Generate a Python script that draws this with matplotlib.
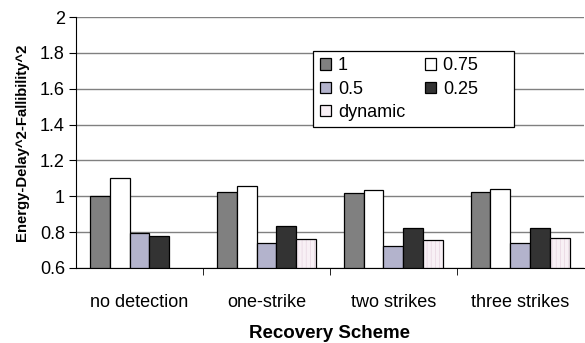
import numpy as np
import matplotlib
matplotlib.use('Agg')
import matplotlib.pyplot as plt

plt.rcParams['font.family'] = ['Liberation Sans', 'DejaVu Sans']
plt.rcParams['hatch.linewidth'] = 0.6

# data
schemes = ['no detection', 'one-strike', 'two strikes', 'three strikes']
series = ['1', '0.75', '0.5', '0.25', 'dynamic']
v_1 = [1.00, 1.025, 1.02, 1.025]
v_075 = [1.10, 1.056, 1.036, 1.04]
v_05 = [0.795, 0.74, 0.72, 0.74]
v_025 = [0.78, 0.835, 0.825, 0.825]
v_dyn = [np.nan, 0.76, 0.755, 0.765]
values = [v_1, v_075, v_05, v_025, v_dyn]

colors = ['#808080', '#ffffff', '#b3b3cc', '#333333', '#f8f0f5']

fig = plt.figure(figsize=(5.85, 3.43), dpi=100)
ax = fig.add_axes([0.130, 0.219, 0.868, 0.731])

x = np.arange(len(schemes))
w = 0.157
handles = []
for i, (name, vals) in enumerate(zip(series, values)):
    h = np.array(vals) - 0.6
    if name == 'dynamic':
        # faint vertical stripes, then the black outline on top
        ax.bar(x + (i - 2) * w, h, w, bottom=0.6, color=colors[i],
               edgecolor='#ead9e4', linewidth=0, hatch='||||', zorder=3)
        b = ax.bar(x + (i - 2) * w, h, w, bottom=0.6, facecolor='none',
                   edgecolor='black', linewidth=0.9, zorder=4)
        hb = plt.Rectangle((0, 0), 1, 1, facecolor=colors[i],
                           edgecolor='black', linewidth=0.9)
    else:
        b = ax.bar(x + (i - 2) * w, h, w, bottom=0.6, color=colors[i],
                   edgecolor='black', linewidth=0.9, zorder=3)
        hb = b
    handles.append(hb)

ax.set_xlim(-0.5, 3.5)
ax.set_ylim(0.6, 2.0)
ax.set_yticks(np.arange(0.6, 2.01, 0.2))
ax.set_yticklabels(['0.6', '0.8', '1', '1.2', '1.4', '1.6', '1.8', '2'])
ax.yaxis.grid(True, color='#808080', linewidth=1.0, zorder=0)
ax.set_axisbelow(True)

ax.set_xticks(x)
ax.set_xticklabels(schemes)
ax.set_xticks([0.5, 1.5, 2.5], minor=True)
ax.tick_params(axis='x', which='major', length=0, labelsize=13, pad=19)
ax.tick_params(axis='x', which='minor', length=5, direction='out', color='black')
ax.tick_params(axis='y', length=5, direction='out', labelsize=13, pad=3)

for s in ['top', 'right']:
    ax.spines[s].set_visible(False)
ax.spines['left'].set_color('black')
ax.spines['bottom'].set_color('black')

ax.set_xlabel('Recovery Scheme', fontsize=13.5, fontweight='bold', labelpad=10)
ax.set_ylabel('Energy-Delay^2-Fallibility^2', fontsize=10.7, fontweight='bold', labelpad=8)

# row-major order in the legend: columns are filled first by matplotlib
order = [0, 2, 4, 1, 3]
labels = [series[k] for k in order]
labels[3] = labels[3] + '      '  # keeps the box as wide as the original
leg = ax.legend([handles[k] for k in order], labels,
                loc='upper left', bbox_to_anchor=(0.4676, 0.8645), ncol=2,
                fontsize=13, frameon=True, fancybox=False, framealpha=1,
                edgecolor='black', handlelength=0.6, handleheight=0.6,
                handletextpad=0.4, columnspacing=1.1, labelspacing=0.35,
                borderpad=0.35, borderaxespad=0)
leg.get_frame().set_linewidth(0.9)
leg.set_zorder(5)

fig.savefig('out.png', dpi=100)
